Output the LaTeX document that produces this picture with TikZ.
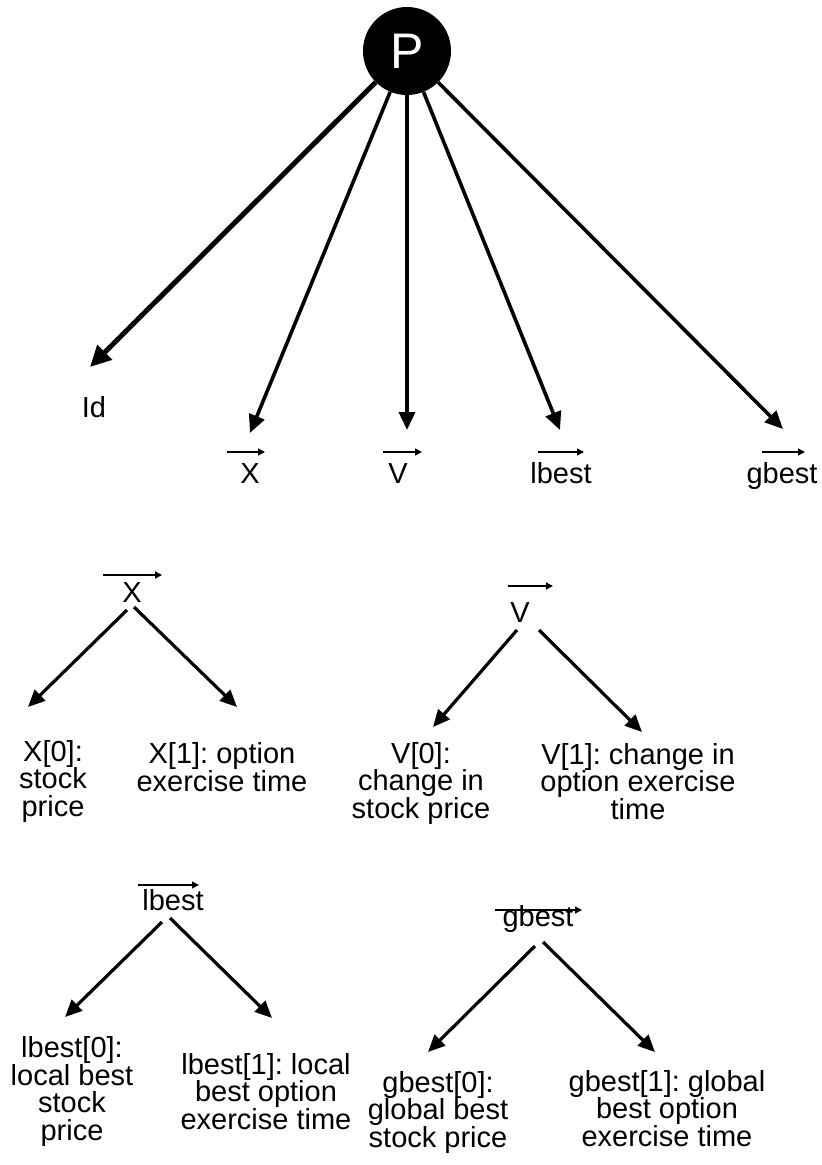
\documentclass[tikz,border=0pt]{standalone}
\usepackage{fontspec}
\setmainfont{Liberation Sans}
\usetikzlibrary{arrows.meta}
\frenchspacing
\begin{document}
\begin{tikzpicture}[x=1pt,y=-1pt,
  lbl/.style={font=\fontsize{29}{27.5}\selectfont, inner sep=0pt, anchor=base},
  blk/.style={lbl, align=center},
  arr/.style={line width=3.2pt, -{Triangle[length=17pt,width=15pt]}},
  toparr/.style={line width=3.6pt, -{Triangle[length=18pt,width=16pt]}},
  thickarr/.style={line width=5pt, -{Triangle[length=21pt,width=20pt]}},
  vecbar/.style={line width=1.4pt, -{Triangle[length=7pt,width=7pt]}}]
\useasboundingbox (0,0) rectangle (822,1165);

% root
\node[circle, fill=black, minimum size=88pt, inner sep=0pt,
      text=white, font=\fontsize{50}{50}\selectfont] (P) at (407,51) {P};

% top-level labels
\node[lbl] (id) at (94,417) {Id};
\node[lbl] (xl) at (250,483) {X};
\node[lbl] (vl) at (398,483) {V};
\node[lbl] (ll) at (561,483) {lbest};
\node[lbl] (gl) at (782,483) {gbest};
\draw[vecbar] (227,452) -- (265,452);
\draw[vecbar] (383,452) -- (422,452);
\draw[vecbar] (538,452) -- (584,452);
\draw[vecbar] (762,452) -- (805,452);

\coordinate (tid) at (90,367);
\coordinate (tx) at (250,433);
\coordinate (tv) at (407,430);
\coordinate (tl) at (560,430);
\coordinate (tg) at (783,429);
\draw[thickarr] (P) -- (tid);
\draw[toparr] (P) -- (tx);
\draw[toparr] (P) -- (tv);
\draw[toparr] (P) -- (tl);
\draw[toparr] (P) -- (tg);

% X subtree
\node[lbl] (xr) at (132,602) {X};
\draw[vecbar] (103,575) -- (162,575);
\coordinate (xs0) at (127,610);
\coordinate (xs1) at (134,607);
\coordinate (xt0) at (28,707);
\coordinate (xt1) at (237,707);
\draw[arr] (xs0) -- (xt0);
\draw[arr] (xs1) -- (xt1);
\node[blk] (x0) at (53,816) {X[0]:\\stock\\price};
\node[blk] (x1) at (222,791) {X[1]: option\\exercise time};

% V subtree
\node[lbl] (vr) at (520,622) {V};
\draw[vecbar] (508,586) -- (553,586);
\coordinate (vs0) at (517,630);
\coordinate (vs1) at (539,630);
\coordinate (vt0) at (433,727);
\coordinate (vt1) at (642,732);
\draw[arr] (vs0) -- (vt0);
\draw[arr] (vs1) -- (vt1);
\node[blk] (v0) at (421,818) {V[0]:\\change in\\stock price};
\node[blk] (v1) at (638,819) {V[1]: change in\\option exercise\\time};

% lbest subtree
\node[lbl] (lr) at (173,910) {lbest};
\draw[vecbar] (138,885) -- (199,885);
\coordinate (ls0) at (162,922);
\coordinate (ls1) at (170,918);
\coordinate (lt0) at (65,1017);
\coordinate (lt1) at (272,1018);
\draw[arr] (ls0) -- (lt0);
\draw[arr] (ls1) -- (lt1);
\node[blk] (l0) at (72,1140) {lbest[0]:\\local best\\stock\\price};
\node[blk] (l1) at (266,1129) {lbest[1]: local\\best option\\exercise time};

% gbest subtree
\node[lbl] (gr) at (538,926) {gbest};
\draw[vecbar] (495,910) -- (582,910);
\coordinate (gs0) at (535,946);
\coordinate (gs1) at (543,942);
\coordinate (gt0) at (428,1052);
\coordinate (gt1) at (655,1052);
\draw[arr] (gs0) -- (gt0);
\draw[arr] (gs1) -- (gt1);
\node[blk] (g0) at (438,1147) {gbest[0]:\\global best\\stock price};
\node[blk] (g1) at (667,1146) {gbest[1]: global\\best option\\exercise time};
\end{tikzpicture}
\end{document}
